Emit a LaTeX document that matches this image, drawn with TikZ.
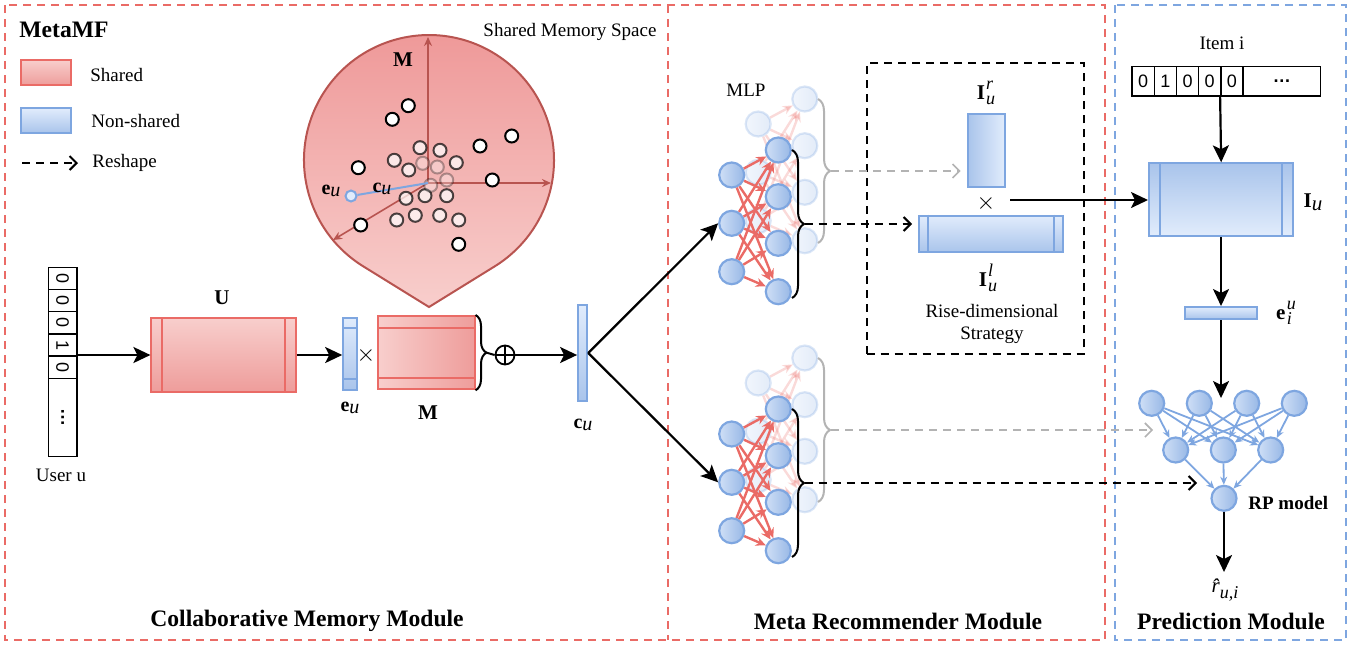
\documentclass[tikz,border=0pt]{standalone}
\usepackage{fontspec}
\setmainfont{Liberation Serif}
\newfontfamily\cellfont{Liberation Sans}
\usetikzlibrary{arrows.meta,decorations.pathreplacing,calc,fit}

\definecolor{redS}{HTML}{EA6B66}
\definecolor{redL}{HTML}{F8CECC}
\definecolor{redD}{HTML}{EE9D9B}
\definecolor{redT}{HTML}{EE9696}
\definecolor{redE}{HTML}{B85450}
\definecolor{blueS}{HTML}{7EA6E0}
\definecolor{blueL}{HTML}{E1ECFC}
\definecolor{blueD}{HTML}{A9C4EB}
\definecolor{blueN}{HTML}{CFDFF6}
\definecolor{blueM}{HTML}{98B8E6}
\definecolor{grayA}{HTML}{B3B3B3}

% bold symbol followed by an italic index on the baseline
\newcommand{\bvec}[2]{\textbf{#1}\raisebox{-0.3ex}{\itshape #2}}
% bold symbol with stacked italic upper and lower indices
\newcommand{\bidx}[3]{\textbf{#1}\kern0.06em\rlap{\raisebox{1ex}{\small\itshape #2}}\raisebox{-0.6ex}{\small\itshape #3}}

\tikzset{
  lab/.style={inner sep=0pt, font=\fontsize{9.5}{11}\selectfont},
  blab/.style={inner sep=0pt, font=\fontsize{10.5}{12}\selectfont\bfseries},
  title/.style={inner sep=0pt, font=\fontsize{11.8}{14}\selectfont\bfseries},
  frameR/.style={draw=redS, line width=1pt, dash pattern=on 4pt off 3pt},
  frameB/.style={draw=blueS, line width=1pt, dash pattern=on 4pt off 3pt},
  redv/.style={draw=redS, line width=1pt, top color=redL, bottom color=redD, inner sep=0pt},
  redh/.style={draw=redS, line width=1pt, left color=redL, right color=redD, inner sep=0pt},
  bluev/.style={draw=blueS, line width=1pt, top color=blueL, bottom color=blueD, inner sep=0pt},
  blueup/.style={draw=blueS, line width=1pt, top color=blueD, bottom color=blueL, inner sep=0pt},
  blueh/.style={draw=blueS, line width=1pt, left color=blueD, right color=blueL, inner sep=0pt},
  neuron/.style={circle, draw=blueS, line width=1.1pt, left color=blueN, right color=blueM, minimum size=12.5pt, inner sep=0pt},
  ghost/.style={neuron, opacity=0.28},
  cell/.style={draw=black, line width=0.7pt, fill=white, inner sep=0pt},
  celltext/.style={inner sep=0pt, font=\cellfont\fontsize{9}{10}\selectfont},
  flow/.style={draw=black, line width=1.1pt, -{Stealth[length=8.5pt,width=8pt,inset=2pt]}},
  reshape/.style={draw=black, line width=1pt, dash pattern=on 4pt off 3pt, -{Straight Barb[length=3.5pt,width=7pt]}},
  reshapeg/.style={draw=grayA, line width=0.8pt, dash pattern=on 4pt off 3pt, -{Straight Barb[length=3.5pt,width=7pt]}},
  link/.style={draw=redS, line width=1.2pt, -{Stealth[length=5pt,width=4.5pt]}},
  rplink/.style={draw=blueS, line width=0.9pt, -{Stealth[length=4pt,width=3.5pt]}},
  axis/.style={draw=redE, line width=0.8pt, -{Stealth[length=4.5pt,width=4pt]}},
  mpt/.style={circle, draw=black, line width=1pt, fill=white, minimum size=6.5pt, inner sep=0pt},
  brc/.style={decorate, decoration={brace, amplitude=6pt}, line width=1pt},
}

\begin{document}
\begin{tikzpicture}[x=0.5pt,y=-0.5pt]
\useasboundingbox (0,0) rectangle (1364,644);

% ---------- module frames ----------
\draw[frameR] (5,5) rectangle (1105,640);
\draw[frameR] (668,5) -- (668,640);
\draw[frameB] (1115,5) rectangle (1346,640);

\node[title] at (307,621) {Collaborative Memory Module};
\node[title] at (898,621) {Meta Recommender Module};
\node[title] at (1231,621) {Prediction Module};

% ---------- legend ----------
\node[title, anchor=west] at (19,30) {MetaMF};
\node (swR) [redv, fit={(21,60)(71,85)}] {};
\node[lab, anchor=west] at (90,75) {Shared};
\node (swB) [bluev, fit={(21,108)(71,133)}] {};
\node[lab, anchor=west] at (91,121) {Non-shared};
\coordinate (lgA) at (22,163);
\coordinate (lgB) at (78,163);
\draw[reshape] (lgA) -- (lgB);
\node[lab, anchor=west] at (92,163) {Reshape};

% ---------- shared memory space ----------
\node[lab] at (570,32) {Shared Memory Space};
\path[draw=redE, line width=1pt, top color=redT, bottom color=redL]
  (429,307) -- (363.2,266.3) arc[start angle=121.76, end angle=418.24, radius=125] -- cycle;
\coordinate (O) at (428,183);
\coordinate (axU) at (428,37);
\coordinate (axR) at (551,183);
\coordinate (axD) at (333,240);
\draw[axis] (O) -- (axU);
\draw[axis] (O) -- (axR);
\draw[axis] (O) -- (axD);
\node[blab] at (403,60) {M};

\foreach \x/\y in {420/147.7,440/150.3,394.3/160.3,456.3/162.7,408.7/170,406/198.3,425/195.7,446.7/195.7,396.7/220,415.3/215.3,439.7/215.3,458.7/220}
  \node[mpt, opacity=0.7] at (\x,\y) {};
\foreach \x/\y in {422.7/163.3,437.3/167,446.7/180,430.7/185.3}
  \node[mpt, opacity=0.3] at (\x,\y) {};
\foreach \x/\y in {408.3/105.7,392.3/119.3,358.3/167.7,480/146,511.7/136,492.3/180,360.7/225,458.7/244.3}
  \node[mpt] at (\x,\y) {};

\node (eupt) [circle, draw=blueS, fill=blueL, line width=1pt, minimum size=5.5pt, inner sep=0pt] at (351,196) {};
\draw[blueS, line width=1pt] (eupt) -- (O);
\node[lab, font=\fontsize{10}{12}\selectfont] at (331,191) {\bvec{e}{u}};
\node[lab, font=\fontsize{10}{12}\selectfont] at (382,189) {\bvec{c}{u}};

% ---------- user side ----------
\foreach \k/\d in {1/0,2/0,3/0,4/1,5/0} {
  \node (uc\k) [cell, minimum width=14.45pt, minimum height=11.1pt] at (62.65,{267.3+22.2*(\k-0.5)}) {};
  \node[celltext, rotate=-90] at (uc\k) {\d};
}
\node (uc6) [cell, minimum width=14.45pt, minimum height=39.2pt] at (62.65,417.5) {};
\node[celltext, rotate=-90] at (uc6) {\textbf{…}};
\node[lab] at (61,475) {User u};

\node (U) [redv, fit={(151.4,318.3)(295.8,391.7)}] {};
\draw[redS, line width=1pt] ($(U.north west)+(12,0)$) -- ($(U.south west)+(12,0)$)
                            ($(U.north east)+(-12,0)$) -- ($(U.south east)+(-12,0)$);
\node[blab] at (222,298) {U};
\draw[flow] (U.west -| uc4.east) -- (U.west);

\node (eu) [bluev, fit={(343.2,317.7)(356.7,390)}] {};
\draw[blueS, line width=1pt] ($(eu.north west)+(0,11.6)$) -- ($(eu.north east)+(0,11.6)$)
                             ($(eu.south west)+(0,-12.3)$) -- ($(eu.south east)+(0,-12.3)$);
\node[lab, font=\fontsize{10}{12}\selectfont] at (350,408) {\bvec{e}{u}};
\draw[flow] (U.east) -- (U.east -| eu.west);
\node[lab, font=\fontsize{12}{14}\selectfont] at (366,355) {$\times$};

\node (M) [redh, fit={(378.4,316)(474.5,389.3)}] {};
\draw[redS, line width=1pt] ($(M.north west)+(0,13)$) -- ($(M.north east)+(0,13)$)
                            ($(M.south west)+(0,-12.6)$) -- ($(M.south east)+(0,-12.6)$);
\node[blab] at (428,413) {M};
\draw[brc, decoration={amplitude=5.5pt}] (M.north east) -- (M.south east);
\coordinate (Mtip) at ($(M.east)+(11,0)$);
\node (oplus) [circle, draw, line width=0.9pt, minimum size=9.5pt, inner sep=0pt] at (505,355) {};
\draw[line width=0.9pt] (oplus.north) -- (oplus.south) (oplus.west) -- (oplus.east);
\draw[line width=1pt] (Mtip) -- (oplus.west);

\node (cu) [bluev, fit={(578.1,305)(587.2,401)}] {};
\node[lab, font=\fontsize{10}{12}\selectfont] at (583,425) {\bvec{c}{u}};
\draw[flow] (oplus.east) -- (oplus.east -| cu.west);

% ---------- meta recommender: two MLPs ----------
\node[lab] at (746,90) {MLP};
\foreach \p/\dy in {t/0,b/259}{
  \begin{scope}[shift={(0,\dy)}]
    % faded layer behind
    \foreach \j/\y in {1/124,2/172.3,3/220.7} \node (\p gi\j) [ghost] at (758.2,\y) {};
    \foreach \k/\y in {1/99,2/145.7,3/192.3,4/240.7} \node (\p go\k) [ghost] at (804.8,\y) {};
    \foreach \j in {1,2,3} \foreach \k in {1,2,3,4} \draw[link, opacity=0.25] (\p gi\j) -- (\p go\k);
    % front layer
    \foreach \j/\y in {1/175,2/223.3,3/271.7} \node (\p i\j) [neuron] at (731.7,\y) {};
    \foreach \k/\y in {1/150,2/196.7,3/243.3,4/291.7} \node (\p o\k) [neuron] at (778.3,\y) {};
    \foreach \j in {1,2,3} \foreach \k in {1,2,3,4} \draw[link] (\p i\j) -- (\p o\k);
    \draw[brc, grayA] (818,99) -- (818,243);
    \draw[brc] (792,150) -- (792,298);
    \coordinate (\p gt) at (831,171);
    \coordinate (\p bt) at (804.5,224);
  \end{scope}
}
\draw[flow] (cu.east) -- (ti2.west);
\draw[flow] (cu.east) -- (bi2.west);

% ---------- rise-dimensional strategy ----------
\node (rise) [fit={(866.7,63.3)(1084,354)}, draw=black, line width=1pt, dash pattern=on 4pt off 3pt, inner sep=0pt] {};
\node[lab, font=\fontsize{10.5}{12}\selectfont] at (986,93) {\bidx{I}{r}{u}};
\node (Ir) [blueh, fit={(967.7,114)(1004.7,186.7)}] {};
\node[lab, font=\fontsize{12}{14}\selectfont] at (986,203) {$\times$};
\node (Il) [bluev, fit={(919,215.7)(1063.3,252.3)}] {};
\draw[blueS, line width=1pt] ($(Il.north west)+(10,0)$) -- ($(Il.south west)+(10,0)$)
                             ($(Il.north east)+(-10,0)$) -- ($(Il.south east)+(-10,0)$);
\node[lab, font=\fontsize{10.5}{12}\selectfont] at (988,278) {\bidx{I}{l}{u}};
\node[lab, align=center] at (992,324) {Rise-dimensional\\Strategy};
\draw[reshapeg, shorten >=3pt] (tgt) -- (tgt -| Ir.west);
\draw[reshape, shorten >=3pt] (tbt) -- (tbt -| Il.west);

% ---------- prediction module ----------
\node[lab] at (1222,43) {Item i};
\foreach \k/\d in {1/0,2/1,3/0,4/0,5/0}
  \node (it\k) [cell, minimum width=11.1pt, minimum height=14.65pt] at ({1132+22.2*(\k-0.5)},81.35) {\cellfont\fontsize{9}{10}\selectfont\d};
\node (it6) [cell, minimum width=38.85pt, minimum height=14.65pt] at (1281.85,81.35) {\cellfont\fontsize{9}{10}\selectfont\textbf{…}};

\node (Iu) [blueup, fit={(1149,163.3)(1293.3,236)}] {};
\draw[blueS, line width=1pt] ($(Iu.north west)+(12,0)$) -- ($(Iu.south west)+(12,0)$)
                             ($(Iu.north east)+(-12,0)$) -- ($(Iu.south east)+(-12,0)$);
\node[lab, font=\fontsize{10.5}{12}\selectfont] at (1313,202) {\bvec{I}{u}};
\draw[flow] (it5.south west) -- (Iu.north);
\coordinate (prod) at (1010,200);
\draw[flow] (prod) -- (prod -| Iu.west);

\node (ei) [bluev, fit={(1185,307)(1257,319)}] {};
\node[lab, font=\fontsize{10.5}{12}\selectfont] at (1284,313) {\bidx{e}{u}{i}};
\draw[flow] (Iu.south -| ei.north) -- (ei.north);

\foreach \k/\x in {1/1151.7,2/1199.3,3/1246.7,4/1294.3}
  \node (ra\k) [neuron, minimum size=12.5pt] at (\x,403.3) {};
\foreach \k/\x in {1/1175.7,2/1223.3,3/1270.7}
  \node (rb\k) [neuron, minimum size=12.5pt] at (\x,450) {};
\node (rout) [neuron, minimum size=12.5pt] at (1224,498.3) {};
\foreach \a in {1,2,3,4} \foreach \b in {1,2,3} \draw[rplink] (ra\a) -- (rb\b);
\foreach \b in {1,2,3} \draw[rplink] (rb\b) -- (rout);
\node[lab, font=\fontsize{9.5}{11}\selectfont\bfseries, anchor=west] at (1248,503) {RP model};
\coordinate (rpIn) at (ei.south |- 0,398);
\draw[flow] (ei.south) -- (rpIn);

\node (rhat) [lab, font=\fontsize{10.5}{12}\selectfont] at (1225,590) {{\itshape\^{r}}\raisebox{-0.6ex}{\small\itshape u,i}};
\draw[flow] (rout.south) -- (rout.south |- 0,572);

\coordinate (rpG) at (1153,430);
\coordinate (rpB) at (1197,483);
\draw[reshapeg] (bgt) -- (rpG);
\draw[reshape] (bbt) -- (rpB);
\end{tikzpicture}
\end{document}
